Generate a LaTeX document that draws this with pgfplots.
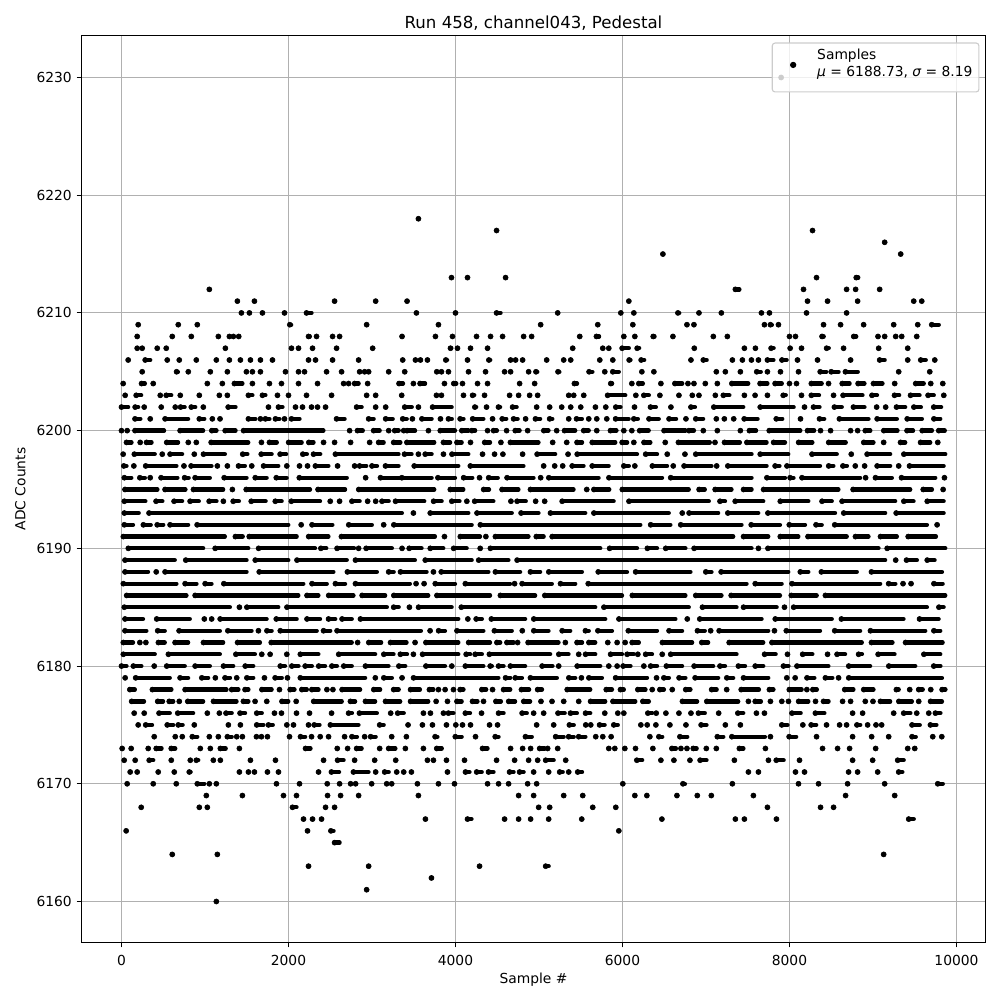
\documentclass[border=0pt]{standalone}
\usepackage{pgfplots}
\pgfplotsset{compat=1.18}
\usepackage{fontspec}
\setmainfont{DejaVu Sans}
\definecolor{gridgray}{HTML}{B0B0B0}
\definecolor{legedge}{HTML}{CCCCCC}
% one plot per ADC level; rows are "start end", end 0 = lone sample.
% merged dots in the dense rows are kept as runs (9800 marks would not fit in TeX)
\newcommand{\lv}[2]{\addplot[forget plot,only marks,mark=*,mark size=1.85pt,black,
  error bars/.cd,x dir=plus,x explicit,error mark=none,
  error bar style={line width=3.1pt,line cap=round,solid,black}]
  table[row sep=crcr,header=false,x expr={\thisrowno{0}+(\thisrowno{1}-\thisrowno{0}>=100?22:0)},y expr=#1,
  x error plus expr={max(\thisrowno{1}-\thisrowno{0}-(\thisrowno{1}-\thisrowno{0}>=100?44:0),0)}]{#2};}
\begin{document}
\begin{tikzpicture}
\path[use as bounding box] (-58.9pt,-41.56pt) rectangle (663.78pt,681.16pt);
\begin{axis}[
    scale only axis, width=653.3pt, height=655.5pt,
    at={(0pt,0pt)}, anchor=south west,
    xmin=-479, xmax=10347, ymin=6156.517, ymax=6233.568,
    xtick={0,2000,4000,6000,8000,10000},
    ytick={6160,6170,6180,6190,6200,6210,6220,6230},
    scaled x ticks=false, scaled y ticks=false,
    tick pos=left, tick align=outside,
    major tick length=3.5pt,
    every tick/.style={black,line width=0.8pt},
    axis line style={line width=0.8pt},
    grid=major, major grid style={gridgray,line width=0.8pt},
    /pgf/number format/assume math mode=true,
    /pgf/number format/1000 sep={},
    ticklabel style={font=\fontsize{10}{12}\selectfont},
    xticklabel style={yshift=-2pt},
    xlabel={Sample \#}, ylabel={ADC Counts},
    label style={font=\fontsize{10}{12}\selectfont},
    xlabel style={at={(axis description cs:0.5,0)},anchor=base,yshift=-29.5pt},
    ylabel style={at={(axis description cs:0,0.5)},anchor=base,yshift=40.5pt},
    title={Run 458, channel043, Pedestal},
    title style={font=\fontsize{12}{14}\selectfont,at={(axis description cs:0.5,1)},anchor=base,yshift=-1pt},
    legend style={at={(0.9934,0.9923)},anchor=north east,
      draw=legedge,line width=0.8pt,fill=white,fill opacity=0.8,text opacity=1,
      rounded corners=2pt,font=\fontsize{10}{12}\selectfont,
      inner xsep=2.7pt,inner ysep=3.5pt},
    legend cell align=left,
    legend image code/.code={\path (0pt,0pt) (27pt,0pt);
      \fill[black,opacity=1] (12pt,-3.4pt) circle[radius=1.85pt];},
]
\addplot[only marks,mark=*,mark size=1.85pt,black] coordinates {(7900,6230)};
\addlegendentry{\raisebox{0pt}[12.35pt][18.15pt]{\begin{tabular}{@{}l@{}}Samples\\[0.3pt]{\itshape μ} = 6188.73, {\itshape σ} = 8.19\end{tabular}}}
\addlegendimage{empty legend}
\addlegendentry{\rule{0pt}{5pt}}
\lv{6218}{3556 0\\}
\lv{6217}{4492 0\\8276 0\\}
\lv{6216}{9140 0\\}
\lv{6215}{6484 0\\9332 0\\}
\lv{6213}{3952 0\\4144 0\\4600 0\\8324 0\\8800 8824\\}
\lv{6212}{1052 0\\7352 7400\\8168 0\\8684 0\\8792 0\\9080 0\\}
\lv{6211}{1388 0\\1592 0\\2552 0\\3044 0\\3420 0\\6076 0\\8216 0\\8456 0\\8816 0\\9488 0\\9584 0\\}
\lv{6210}{1436 0\\1532 0\\1688 0\\1952 0\\2216 2276\\3532 0\\4000 0\\4492 4540\\5224 0\\5980 0\\6136 0\\6664 6680\\6916 0\\7184 0\\7664 0\\7760 0\\8204 0\\8684 0\\}
\lv{6209}{200 0\\680 0\\908 0\\2016 2032\\2936 0\\3796 0\\5020 0\\5704 0\\6124 0\\6772 0\\6856 0\\7700 0\\7772 7790\\7868 0\\8408 0\\8612 0\\8888 0\\9248 0\\9536 0\\9704 9788\\}
\lv{6208}{188 0\\608 0\\836 0\\1160 0\\1292 0\\1340 0\\1404 0\\2240 2256\\2336 0\\2528 0\\2612 0\\3360 0\\3760 0\\3964 0\\4252 0\\4420 0\\4564 0\\4816 0\\4912 0\\5488 0\\5688 5720\\6016 0\\6148 0\\6368 6384\\6604 0\\7088 0\\7256 0\\8000 0\\8072 0\\8390 8410\\8770 8800\\9060 0\\9140 0\\9272 0\\9344 0\\9524 0\\}
\lv{6207}{188 0\\248 0\\428 0\\536 0\\1244 0\\2036 0\\2120 0\\2288 0\\2576 0\\3008 0\\3940 3950\\4024 0\\4180 0\\4384 0\\5404 0\\5764 0\\5836 0\\5996 6076\\6176 6200\\6860 0\\7460 0\\7592 0\\7780 7810\\8008 0\\8144 0\\8445 8470\\8648 0\\9068 0\\9416 0\\}
\lv{6206}{80 0\\284 344\\548 0\\692 0\\896 0\\1136 0\\1292 0\\1424 0\\1544 0\\1664 0\\1808 0\\2240 0\\2324 0\\2528 0\\2840 0\\3368 0\\3520 0\\3580 0\\3664 0\\3884 3900\\4144 0\\4400 4416\\4660 0\\4720 0\\4804 0\\5092 0\\5296 0\\5380 0\\5728 0\\5884 0\\6080 6096\\6224 6260\\6820 0\\6968 7008\\7316 0\\7436 0\\7544 0\\7628 0\\7736 7808\\7888 7988\\8096 0\\8336 0\\8732 0\\9080 9140\\9416 0\\9572 9632\\9740 0\\}
\lv{6205}{248 0\\660 676\\800 0\\1064 0\\1268 0\\1496 0\\1568 0\\1664 0\\1964 0\\2120 0\\2192 0\\2456 0\\2636 0\\2852 0\\2912 0\\2960 0\\3200 0\\3392 0\\3776 0\\3832 0\\3916 0\\4156 0\\4360 0\\4588 0\\4660 0\\4876 0\\4964 4980\\5228 5244\\5600 5640\\5788 0\\5884 5956\\6232 0\\6376 0\\7124 0\\7232 0\\7412 0\\7608 7656\\7736 0\\7892 0\\8108 0\\8368 8440\\8500 8588\\8648 8840\\9308 0\\9680 0\\}
\lv{6204}{20 0\\240 280\\380 0\\1028 0\\1208 0\\1352 1448\\1568 0\\1772 0\\1916 0\\2120 0\\2348 0\\2660 0\\2720 0\\2792 2840\\2948 0\\3324 3372\\3496 0\\3576 3636\\3868 0\\3980 4010\\4084 0\\4264 0\\4384 0\\4768 0\\4948 0\\5424 5456\\5860 5876\\6112 0\\6196 6244\\6460 0\\6628 6716\\6784 0\\6856 0\\6992 0\\7136 0\\7288 7528\\7648 7736\\7828 7908\\8000 0\\8084 0\\8240 8408\\8468 0\\8632 8720\\8800 8920\\8984 9136\\9260 0\\9512 9608\\9692 0\\9836 0\\}
\lv{6203}{44 0\\176 236\\464 0\\536 596\\704 0\\932 0\\1172 0\\1268 0\\1520 1568\\1688 1724\\1868 0\\2000 0\\2216 0\\2516 0\\2936 0\\3044 0\\3356 0\\3772 0\\3832 0\\4096 0\\4205 4225\\4348 0\\4648 0\\4756 0\\4888 0\\4984 0\\5356 0\\5416 0\\5536 0\\5800 6056\\6160 0\\6256 6316\\6448 0\\6676 0\\6836 0\\6916 0\\7112 0\\7208 7280\\7460 0\\7588 0\\7736 0\\7925 7955\\8144 0\\8240 8376\\8528 0\\8620 8896\\8988 9048\\9236 9336\\9428 9580\\9660 9728\\9848 0\\}
\lv{6202}{0 80\\164 200\\272 0\\476 0\\644 0\\708 756\\836 884\\980 0\\1256 1388\\1760 0\\1880 1928\\2084 0\\2168 0\\2276 0\\2348 0\\2444 0\\2816 2876\\3044 0\\3164 0\\3392 3476\\3556 0\\3704 3976\\4232 4248\\4372 0\\4515 4535\\4684 4732\\4972 0\\5128 0\\5272 0\\5380 0\\5500 0\\5676 0\\5800 0\\5920 5976\\6144 0\\6336 6400\\6580 0\\6820 6868\\7072 7468\\7628 8072\\8180 0\\8288 8360\\8516 8648\\8744 8920\\9044 0\\9152 0\\9260 9408\\9468 9596\\9728 9816\\}
\lv{6201}{140 248\\344 0\\500 820\\932 992\\1088 0\\1180 0\\1520 1604\\1664 0\\1724 1772\\1844 1892\\1952 0\\2036 2132\\2576 2672\\2960 3020\\3164 3248\\3368 3416\\3484 0\\3576 3736\\3820 0\\3916 3956\\4056 4096\\4184 4356\\4444 0\\4560 4608\\4696 4744\\4840 0\\4936 5036\\5128 5160\\5356 0\\5428 5536\\5596 0\\5692 0\\5812 0\\5896 6096\\6136 6184\\6296 6456\\6536 6664\\6760 0\\6856 6988\\7124 0\\7220 0\\7332 0\\7436 7640\\7820 7936\\8132 0\\8360 8416\\8576 8968\\9028 9308\\9388 9608\\9708 9828\\}
\lv{6200}{0 0\\68 0\\140 532\\680 1000\\1060 1160\\1220 1388\\1440 2440\\2732 0\\2804 2912\\3020 3092\\3200 0\\3272 3320\\3380 0\\3420 3516\\3676 0\\3796 4016\\4076 4156\\4196 4236\\4384 0\\4456 4496\\4612 0\\4716 4768\\4864 0\\5036 5136\\5212 0\\5284 5456\\5536 5596\\5692 0\\5856 5928\\6016 0\\6112 0\\6184 6336\\6476 6776\\6796 6856\\6968 0\\7136 0\\7412 0\\7520 7600\\7736 8152\\8216 8296\\8372 0\\8492 0\\8732 0\\8816 0\\8908 8968\\9108 9316\\9408 9480\\9568 9728\\9788 9860\\}
\lv{6199}{60 120\\224 0\\300 360\\520 700\\800 0\\896 0\\1052 1540\\1676 0\\1772 1860\\1980 2180\\2244 2300\\2420 0\\2552 0\\2744 0\\2972 0\\3080 3140\\3260 3340\\3396 3768\\3856 3936\\3996 4096\\4180 0\\4328 4436\\4544 0\\4636 5016\\5164 0\\5332 0\\5456 5516\\5616 5936\\5996 6056\\6136 0\\6236 6356\\6512 0\\6648 7068\\7108 0\\7200 7428\\7468 7748\\7788 7968\\8088 8296\\8448 8696\\8868 9028\\9128 0\\9308 9408\\9548 9708\\9776 0\\}
\lv{6198}{20 0\\132 420\\488 0\\560 748\\872 0\\960 1260\\1452 1508\\1652 1820\\1900 1972\\2172 2220\\2300 2380\\2540 3340\\3368 3496\\3556 0\\3616 3736\\3856 0\\3936 4176\\4324 0\\4468 0\\4568 0\\4804 0\\4956 5216\\5348 0\\5436 6196\\6256 6436\\6536 0\\6748 0\\6856 7568\\7628 8008\\8248 8588\\8740 0\\8908 9228\\9348 9888\\}
\lv{6197}{28 60\\148 0\\268 680\\748 0\\812 1100\\1148 0\\1268 0\\1380 1500\\1560 0\\1680 1900\\1980 0\\2132 0\\2228 0\\2300 2500\\2588 0\\2792 0\\2852 2932\\3000 3060\\3140 3340\\3484 4056\\4156 4836\\5056 0\\5188 0\\5284 0\\5376 5556\\5616 5856\\6016 6076\\6148 0\\6336 6556\\6608 0\\6716 7088\\7128 0\\7240 7748\\7828 7880\\7948 8388\\8448 8548\\8640 8688\\8788 0\\8900 0\\9028 9228\\9308 0\\9416 9868\\}
\lv{6196}{12 140\\220 280\\344 0\\452 692\\756 804\\860 1080\\1208 1520\\1580 1760\\1832 2000\\2108 2720\\2924 0\\3080 3420\\3336 3736\\3768 4016\\4076 4224\\4288 0\\4376 4528\\4596 4956\\5020 0\\5096 5736\\5816 6496\\6556 7568\\7708 7968\\8008 8048\\8128 8868\\8912 0\\9008 9248\\9320 9768\\9856 0\\}
\lv{6195}{20 452\\500 788\\840 1240\\1328 0\\1472 2280\\2332 2700\\2820 3768\\3916 4116\\4316 4424\\4536 4776\\4876 5436\\5572 0\\5636 5864\\5976 6816\\6896 7008\\7088 7328\\7428 7568\\7668 8608\\8740 9468\\9580 9728\\9840 0\\}
\lv{6194}{12 308\\392 512\\608 748\\800 948\\1028 1160\\1220 0\\1316 1428\\1532 1748\\1820 1940\\2012 2400\\2500 0\\2612 0\\2760 2852\\2948 0\\3044 0\\3120 3200\\3260 3648\\3716 3856\\3956 4048\\4136 0\\4208 4476\\4664 0\\4716 4864\\4960 0\\5068 0\\5256 5916\\6056 7056\\7168 7228\\7328 7708\\7868 8248\\8368 8528\\8608 9288\\9348 9508\\9628 9868\\}
\lv{6193}{12 228\\308 3380\\3496 0\\3676 4176\\4236 4696\\4764 5016\\5116 5576\\5636 6576\\6716 0\\6776 7168\\7240 7648\\7720 8568\\8628 9168\\9256 9868\\}
\lv{6192}{12 160\\240 372\\428 500\\560 820\\884 2020\\2152 0\\2260 2548\\2700 3020\\3140 0\\3240 4216\\4276 6236\\6316 6596\\6676 7448\\7520 7908\\7976 8208\\8296 8408\\8520 9668\\9768 0\\}
\lv{6191}{0 1260\\1364 1452\\1508 2120\\2220 2500\\2612 3776\\3868 0\\4036 4316\\4364 0\\4456 4896\\4968 5056\\5136 7348\\7428 7768\\7868 8128\\8200 8708\\8768 8968\\9068 9308\\9400 9776\\}
\lv{6190}{60 1000\\1100 1540\\1620 2340\\2388 2452\\2560 2808\\2840 0\\2908 3260\\3360 0\\3424 3616\\3676 3876\\3956 4156\\4296 0\\4396 5756\\5824 6196\\6276 6436\\6496 6776\\6836 7568\\7628 0\\7720 9088\\9148 9888\\}
\lv{6189}{20 660\\748 1520\\1580 2020\\2080 2720\\2780 3536\\3616 4216\\4256 4656\\4716 9168\\9272 0\\9380 9548\\9628 9760\\}
\lv{6188}{20 340\\416 0\\500 1520\\1628 2560\\2684 3080\\3200 3260\\3320 3676\\3736 0\\3808 4416\\4456 4796\\4876 5036\\5096 5536\\5688 6076\\6136 6836\\6976 7088\\7160 8008\\8108 8248\\8360 8828\\8960 9848\\}
\lv{6187}{0 680\\740 920\\980 1100\\1204 2200\\2260 2480\\2540 2700\\2780 3476\\3528 0\\3624 0\\3736 4016\\4096 4676\\4708 0\\4776 5176\\5236 5456\\5568 7508\\7568 7928\\8008 9108\\9188 9268\\9360 0\\9456 0\\9708 9856\\}
\lv{6186}{40 800\\860 2140\\2200 2380\\2460 2800\\2860 3180\\3240 3696\\3756 4436\\4516 4976\\5048 6016\\6096 6776\\6856 7208\\7280 7908\\8000 8348\\8408 9888\\}
\lv{6185}{12 1320\\1412 0\\1480 1900\\1960 3200\\3260 3320\\3448 0\\3536 3976\\4048 5696\\5756 6816\\6936 7388\\7428 7868\\7940 0\\8028 9668\\9768 9868\\}
\lv{6184}{20 280\\400 840\\992 0\\1080 0\\1160 1760\\1832 2120\\2200 2400\\2480 2560\\2620 2780\\2840 4056\\4148 0\\4248 4316\\4408 4856\\4916 5816\\5936 6656\\6776 0\\6904 7688\\7808 8528\\8600 9388\\9536 9808\\}
\lv{6183}{20 320\\412 540\\668 1200\\1252 1580\\1640 0\\1720 1820\\1880 2360\\2420 2500\\2560 3608\\3696 0\\3776 3896\\3996 4356\\4444 4696\\4800 0\\4916 5136\\5256 5396\\5556 5596\\5684 5896\\6048 6436\\6536 6736\\6876 7008\\7056 0\\7136 7768\\7820 0\\7940 8388\\8520 8868\\8948 9648\\9708 9828\\}
\lv{6182}{0 160\\220 0\\292 0\\420 540\\620 820\\960 1240\\1368 1680\\1772 2780\\2828 0\\2940 3132\\3200 3436\\3516 0\\3624 4056\\4136 4436\\4496 4536\\4616 4696\\4744 0\\4848 5256\\5316 0\\5456 5516\\5576 5696\\5824 0\\5936 0\\6032 0\\6116 6196\\6456 6856\\6928 7048\\7256 7708\\7768 8888\\8960 9256\\9368 9856\\}
\lv{6181}{0 420\\540 1200\\1348 1620\\1680 0\\1780 0\\1980 0\\2120 2380\\2580 3060\\3120 3280\\3340 3420\\3496 0\\3584 4056\\4128 4176\\4236 4316\\4384 5156\\5216 5376\\5476 0\\5536 5696\\5836 6016\\6056 6136\\6184 0\\6256 6376\\6476 0\\6556 7388\\7680 7856\\7976 0\\8136 8296\\8456 0\\8548 8688\\8828 8868\\9040 9280\\9588 9828\\}
\lv{6180}{0 60\\120 260\\392 0\\520 780\\860 1080\\1200 1360\\1460 1600\\1880 1980\\2040 2120\\2200 2280\\2340 2460\\2520 2580\\2640 2780\\2900 3220\\3300 3420\\3624 3896\\3956 0\\4096 4356\\4416 4436\\4516 4576\\4636 4856\\5016 5184\\5236 0\\5436 5756\\5836 0\\5936 0\\6008 6096\\6256 0\\6316 6436\\6504 6736\\6836 7108\\7168 7228\\7388 7468\\7568 7708\\7928 7988\\8068 8488\\8688 8988\\9168 9528\\9728 9808\\}
\lv{6179}{44 0\\148 600\\680 820\\940 1060\\1124 0\\1240 1300\\1380 0\\1480 1600\\1712 0\\1840 1920\\1988 0\\2120 2940\\3040 0\\3120 3260\\3360 0\\3476 4536\\4600 4656\\4716 4796\\4876 5236\\5336 5456\\5508 0\\5576 5776\\5896 6316\\6408 0\\6496 6556\\6656 6776\\6848 7168\\7228 7348\\7428 7768\\7968 0\\8068 0\\8188 8320\\8408 8536\\8588 0\\8688 9848\\}
\lv{6178}{100 160\\348 620\\740 1280\\1320 1400\\1480 1520\\1660 1820\\1892 0\\2020 2072\\2160 2220\\2280 2360\\2460 0\\2532 0\\2620 2880\\3000 3120\\3260 3320\\3440 3596\\3688 3736\\3796 0\\3876 0\\3976 0\\4056 4096\\4316 4368\\4444 0\\4576 4656\\4768 4904\\4984 5036\\5316 5636\\5784 5896\\5976 6016\\6184 6276\\6356 0\\6448 6496\\6596 0\\6736 6836\\7068 7128\\7248 0\\7400 7656\\7760 7808\\7976 8168\\8208 0\\8280 8328\\8640 8788\\8868 9028\\9280 9308\\9440 0\\9548 9596\\9692 0\\9828 9868\\}
\lv{6177}{100 292\\412 520\\572 620\\692 0\\772 1000\\1080 1400\\1460 1520\\1600 0\\1740 0\\1900 2020\\2092 0\\2280 2660\\2720 2820\\2900 3060\\3140 3360\\3440 3696\\3768 0\\3904 0\\3996 4096\\4204 4264\\4336 0\\4484 4544\\4616 4736\\4796 4916\\5024 0\\5156 0\\5296 0\\5476 0\\5596 5816\\5864 6176\\6244 6316\\6696 6916\\6988 7408\\7508 0\\7568 7680\\7772 0\\7908 0\\7988 0\\8088 8248\\8312 0\\8408 8468\\8636 0\\8732 0\\8908 0\\9000 0\\9068 9228\\9288 9488\\9548 0\\9668 9848\\}
\lv{6176}{152 0\\272 0\\428 600\\652 880\\1028 0\\1172 0\\1252 1320\\1420 1480\\1620 1680\\1832 0\\1916 0\\2096 0\\2252 0\\2516 0\\2720 2760\\2828 3080\\3224 0\\3308 3380\\3616 0\\3700 0\\3856 0\\3916 3976\\4096 4196\\4312 0\\4516 4576\\4776 4876\\4936 0\\5056 0\\5228 5308\\5356 5476\\5536 5636\\5788 0\\5944 0\\6016 0\\6304 6356\\6404 0\\6520 0\\6676 0\\6820 0\\6888 7008\\7152 0\\7360 7468\\7604 0\\7700 0\\8008 8156\\8288 8440\\8756 0\\8876 0\\9248 0\\9368 9448\\9524 0\\9668 0\\9748 9808\\}
\lv{6175}{200 0\\268 388\\548 620\\680 732\\872 0\\1280 0\\1424 0\\1620 1700\\1760 1812\\1980 0\\2060 0\\2240 0\\2308 2372\\2480 2860\\3092 3140\\3432 0\\3604 0\\3724 0\\3892 0\\4004 0\\4084 0\\4180 0\\4408 0\\4504 0\\4972 0\\5176 0\\5364 5416\\5560 0\\5620 0\\5704 5808\\5896 5944\\6220 0\\6296 0\\6400 0\\6568 0\\6760 0\\6920 7028\\7232 0\\7412 0\\7908 7976\\8160 0\\8260 8320\\8444 0\\8600 0\\8684 0\\8808 8848\\8936 0\\9036 0\\9104 0\\9468 9560\\9688 9760\\}
\lv{6174}{392 0\\644 0\\728 0\\848 908\\1052 0\\1160 0\\1268 1320\\1380 0\\1448 0\\1616 0\\1676 0\\1748 0\\2012 0\\2144 2200\\2276 0\\2380 0\\2480 0\\2672 0\\2760 2820\\2912 0\\2984 3044\\3236 0\\3412 0\\3756 3784\\3976 4096\\4240 0\\4476 4516\\4816 4936\\5200 5296\\5356 5416\\5476 5556\\5680 0\\5764 0\\5864 0\\6328 0\\6436 6476\\6688 6776\\7136 7208\\7288 7728\\7772 0\\7996 8080\\8324 0\\8756 0\\8984 0\\9188 0\\9468 9512\\9716 0\\9824 0\\}
\lv{6173}{8 0\\116 0\\320 0\\416 480\\596 644\\944 0\\1064 0\\1184 1248\\1412 0\\2204 2264\\2584 0\\2708 0\\2816 2876\\3092 0\\3200 3280\\3400 0\\3616 0\\3776 3836\\4324 4384\\4660 0\\4804 0\\4900 0\\5008 5068\\5104 0\\5224 0\\5836 0\\5908 0\\6028 0\\6156 0\\6364 0\\6592 6640\\6700 0\\6772 0\\6848 6888\\7004 0\\7124 0\\7400 7448\\7712 0\\8396 0\\8576 0\\8720 0\\9032 0\\9416 0\\9500 0\\}
\lv{6172}{32 0\\164 0\\332 380\\596 0\\824 0\\896 920\\1100 0\\1184 0\\1544 0\\1844 0\\2420 0\\2588 2660\\2792 0\\3032 0\\3284 0\\3664 0\\3736 0\\3892 0\\4108 0\\4492 0\\4708 0\\4876 0\\4984 0\\5080 5176\\5320 0\\6172 6236\\6460 0\\6616 0\\6808 0\\6908 7028\\7340 0\\7748 0\\7820 7952\\8120 0\\8756 0\\8996 0\\9296 9368\\}
\lv{6171}{104 0\\188 0\\440 0\\632 0\\812 828\\1412 0\\1520 0\\1592 0\\1748 0\\1880 0\\2360 0\\2492 2628\\2756 2980\\3044 0\\3152 3200\\3296 0\\3380 0\\3472 0\\3904 0\\4120 4168\\4232 4336\\4396 4456\\4648 4696\\4768 4816\\4936 0\\5116 0\\5248 5284\\5356 0\\5464 5516\\7508 0\\7628 0\\8072 0\\8180 0\\8708 0\\8816 0\\9056 0\\9308 9352\\}
\lv{6170}{68 0\\380 0\\656 0\\908 992\\1052 0\\1136 0\\1856 0\\2132 0\\2464 0\\2612 0\\2744 0\\2804 0\\2996 0\\3176 0\\3236 0\\3544 0\\3796 0\\3988 0\\4384 0\\4516 0\\4636 0\\4864 0\\4972 0\\6004 0\\6724 6748\\7316 0\\8108 0\\8348 0\\8696 0\\9140 0\\9776 9836\\}
\lv{6169}{1016 0\\1448 0\\1940 0\\2096 0\\2468 0\\2624 0\\2840 0\\3556 0\\4756 0\\4936 0\\5296 0\\5524 0\\6148 0\\6292 0\\6652 0\\6896 0\\7064 0\\7568 0\\8672 0\\9260 0\\}
\lv{6168}{236 0\\932 0\\1028 0\\2048 2096\\2444 0\\2552 0\\4996 0\\5128 0\\5644 0\\5920 0\\7736 0\\8372 0\\8528 0\\}
\lv{6167}{2180 0\\2288 0\\2396 0\\3640 0\\4144 4192\\4588 0\\4756 0\\4900 0\\5116 0\\5512 0\\6472 0\\7352 0\\7460 0\\7844 0\\9428 9488\\}
\lv{6166}{56 0\\2228 0\\2508 2540\\5956 0\\}
\lv{6165}{2552 2612\\}
\lv{6164}{608 0\\1148 0\\9128 0\\}
\lv{6163}{2240 0\\2960 0\\4288 0\\5080 5116\\}
\lv{6162}{3712 0\\}
\lv{6161}{2936 0\\}
\lv{6160}{1136 0\\}
\end{axis}
\end{tikzpicture}
\end{document}
